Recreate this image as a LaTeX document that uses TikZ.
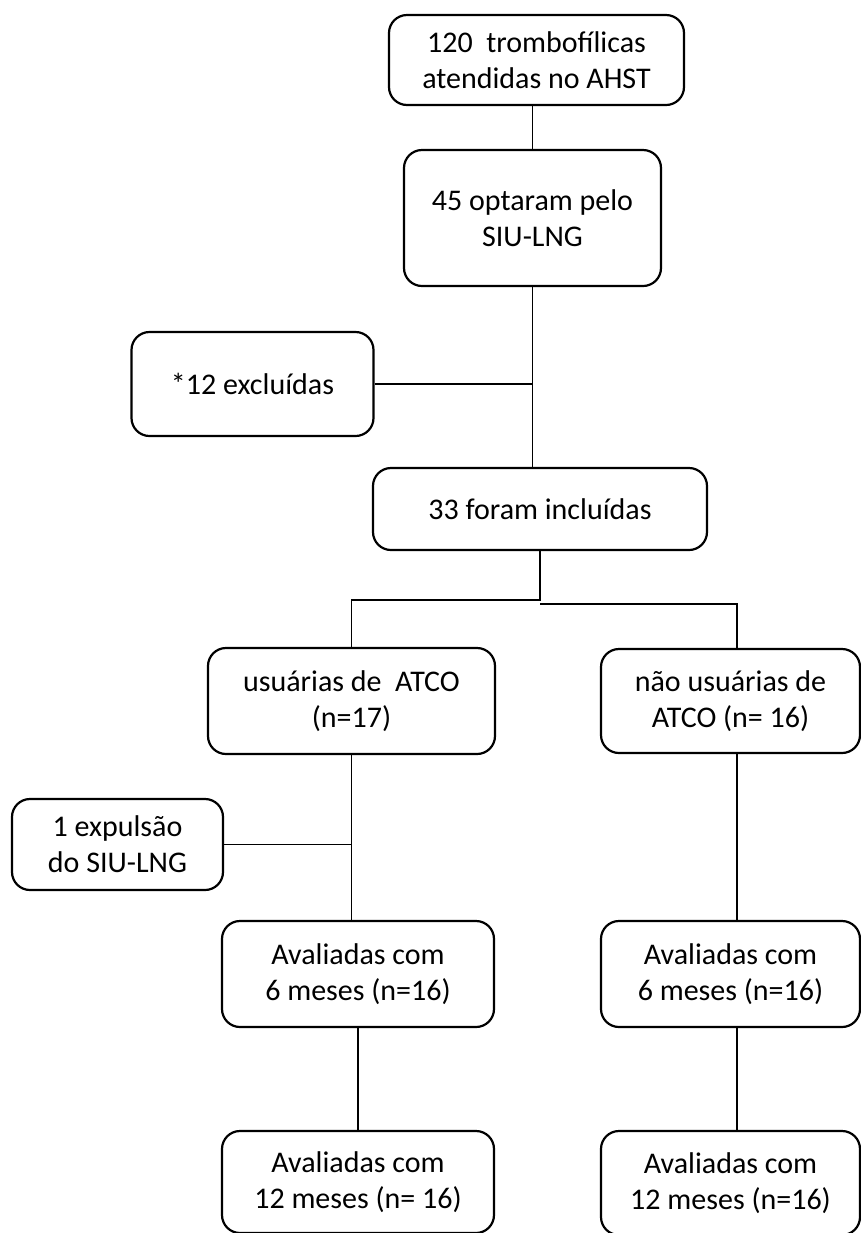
\documentclass[tikz,border=0pt]{standalone}
\usepackage{fontspec}
\setmainfont{Carlito}
\usepackage{tikz}
\usetikzlibrary{positioning, calc}

\begin{document}
\begin{tikzpicture}[
        x=0.5pt, y=-0.5pt,
        box/.style={rectangle, draw=black, line width=1.1pt, rounded corners=9pt, align=center, inner sep=0pt, font=\fontsize{15pt}{18pt}\selectfont},
        link/.style={draw=black, line width=0.9pt}
    ]
        \useasboundingbox (0,0) rectangle (861,1233);

        \node[box, minimum width=147.5pt, minimum height=45pt] (atend) at (536.5,60) {120\ \ trombofílicas\\atendidas no AHST};
        \node[box, minimum width=128.5pt, minimum height=68pt] (optaram) at (532.5,218) {45 optaram pelo\\SIU-LNG};
        \node[box, minimum width=121pt, minimum height=52pt] (exclu) at (252.5,384) {*12 excluídas};
        \node[box, minimum width=167pt, minimum height=41pt] (incl) at (540,509) {33 foram incluídas};
        \node[box, minimum width=143.5pt, minimum height=53pt] (usu) at (351.5,701) {usuárias de\ \ ATCO\\(n=17)};
        \node[box, minimum width=129.5pt, minimum height=52pt] (naousu) at (730.5,701) {não usuárias de\\ATCO (n= 16)};
        \node[box, minimum width=105.5pt, minimum height=45.5pt] (expul) at (117.5,844.5) {1 expulsão\\do SIU-LNG};
        \node[box, minimum width=136pt, minimum height=53pt] (avseisA) at (358,974) {Avaliadas com\\6 meses (n=16)};
        \node[box, minimum width=129.5pt, minimum height=53pt] (avseisB) at (730.5,974) {Avaliadas com\\6 meses (n=16)};
        \node[box, minimum width=136pt, minimum height=51pt] (avdozeA) at (358,1182) {Avaliadas com\\12 meses (n= 16)};
        \node[box, minimum width=129.5pt, minimum height=52pt] (avdozeB) at (730.5,1183) {Avaliadas com\\12 meses (n=16)};

        \coordinate (forkL) at (351.5,600);
        \coordinate (forkR) at (737,604);

        \draw[link] (optaram.north) -- (optaram.north |- atend.south);
        \draw[link] (optaram.south) -- (optaram.south |- incl.north);
        \draw[link] (exclu.east) -- (exclu.east -| optaram.south);
        \draw[link] (incl.south) |- (forkL) -- (usu.north);
        \draw[link] (incl.south |- forkR) -- (forkR) -- (forkR |- naousu.north);
        \draw[link] (usu.south) -- (usu.south |- avseisA.north);
        \draw[link] (expul.east) -- (expul.east -| usu.south);
        \draw[link] (avseisA.south) -- (avdozeA.north);
        \draw[link] (forkR |- naousu.south) -- (forkR |- avseisB.north);
        \draw[link] (forkR |- avseisB.south) -- (forkR |- avdozeB.north);
    \end{tikzpicture}
\end{document}
